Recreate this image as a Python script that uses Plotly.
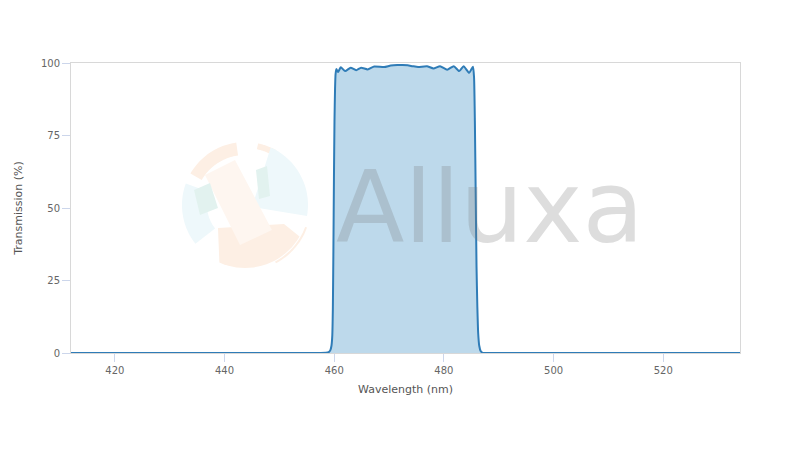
import plotly.graph_objects as go
import math

# ---- data ----
wavelength_nm = [412, 450, 458.5, 459.0, 459.3, 459.5, 459.65, 459.75, 459.85, 459.95,
                 460.05, 460.15, 460.25, 460.4, 460.7, 461.2, 462.0, 463.0, 464.0, 464.9,
                 466.1, 467.3, 469.1, 470.3, 471.5, 472.5, 473.4, 474.3, 475.3, 476.9,
                 478.1, 479.3, 480.6, 481.8, 482.8, 483.6, 484.6, 485.3, 485.5, 485.65,
                 485.8, 485.95, 486.1, 486.25, 486.45, 486.7, 487.0, 487.5, 489, 534]
transmission_pct = [0, 0, 0.05, 0.3, 1.0, 2.5, 6, 15, 35, 60,
                    80, 91, 96.2, 97.9, 96.9, 98.5, 97.2, 98.4, 97.5, 98.4,
                    97.8, 98.8, 98.6, 99.1, 99.3, 99.3, 99.2, 98.9, 98.6, 98.9,
                    98.1, 98.9, 97.7, 98.9, 97.2, 98.9, 96.6, 98.7, 95, 80,
                    55, 30, 16, 7, 2.5, 0.7, 0.15, 0, 0, 0]
x_ticks = [420, 440, 460, 480, 500, 520]
y_ticks = [0, 25, 50, 75, 100]

# ---- layout geometry (pixels; page body adds an 8px offset) ----
W, H = 800, 450
ML, MR, MT, MB = 63, 68, 55, 105
PL, PT = 71, 63                      # plot-area origin on screen
PW, PH = W - ML - MR, H - MT - MB


def px(x, y):
    return (x - PL) / PW, (PT + PH - y) / PH


def poly(points):
    s = ""
    for i, (x, y) in enumerate(points):
        u, v = px(x, y)
        s += ("M" if i == 0 else "L") + f"{u:.4f},{v:.4f} "
    return s + "Z"


def sector(cx, cy, r0, r1, a0, a1, n=30):
    pts = []
    for i in range(n + 1):
        a = math.radians(a0 + (a1 - a0) * i / n)
        pts.append((cx + r1 * math.cos(a), cy - r1 * math.sin(a)))
    for i in range(n + 1):
        a = math.radians(a1 + (a0 - a1) * i / n)
        pts.append((cx + r0 * math.cos(a), cy - r0 * math.sin(a)))
    return pts


fig = go.Figure()
fig.add_trace(go.Scatter(
    x=wavelength_nm, y=transmission_pct, mode="lines",
    line=dict(color="#2f7cb7", width=2, shape="spline", smoothing=0.5),
    fill="tozeroy", fillcolor="#bdd9eb", hoverinfo="skip", showlegend=False))

# watermark logo (decorative)
cx, cy, R = 245, 205, 63
orange, blue, teal = "#fdefe4", "#eef8fb", "#e2f2ef"
shapes = []


def add(pts, color, op=1.0):
    shapes.append(dict(type="path", xref="paper", yref="paper", path=poly(pts),
                       fillcolor=color, line=dict(width=0), layer="below", opacity=op))


add(sector(cx, cy, 50, 63, 98, 150), orange)
add(sector(cx, cy, 57, 63, 60, 78), orange)
add(sector(cx, cy, 38, 63, 160, 218), blue)
# right blue wedge
pts = [(252, 207)] + [(cx + R * math.cos(math.radians(a)), cy - R * math.sin(math.radians(a)))
                      for a in range(66, -14, -4)]
add(pts, blue)
# bottom orange
pts = [(218, 228), (284, 224)] + [(cx + R * math.cos(math.radians(a)), cy - R * math.sin(math.radians(a)))
                                  for a in range(-30, -116, -4)]
add(pts, orange)
add(sector(cx, cy, 64, 66, -20, -62), orange)
# centre tilted rectangle
add([(205, 175), (235, 160), (272, 230), (240, 245)], "#fef6f0")
add([(194, 190), (210, 183), (218, 208), (200, 215)], teal)
add([(256, 170), (267, 166), (270, 196), (259, 199)], teal)

fig.update_layout(
    width=W, height=H,
    margin=dict(l=ML, r=MR, t=MT, b=MB, autoexpand=False),
    paper_bgcolor="white", plot_bgcolor="white",
    font=dict(family="DejaVu Sans, sans-serif", size=10, color="#666666"),
    shapes=shapes,
    annotations=[dict(text="Alluxa", xref="paper", yref="paper", x=px(490, 207)[0], y=px(490, 207)[1],
                      xanchor="center", yanchor="middle", showarrow=False,
                      font=dict(family="DejaVu Sans, sans-serif", size=100,
                                color="rgba(120,120,120,0.25)"))],
    xaxis=dict(range=[412, 534], tickvals=x_ticks, ticks="outside", ticklen=8,
               tickcolor="#ccd6eb", showgrid=False, zeroline=False, automargin=False,
               showline=True, linecolor="#d8d8d8", linewidth=1, mirror=True,
               title=dict(text="Wavelength (nm)", font=dict(size=11, color="#555555"), standoff=10)),
    yaxis=dict(range=[0, 100], tickvals=y_ticks, ticks="outside", ticklen=8,
               tickcolor="#ccd6eb", showgrid=False, zeroline=False, automargin=False,
               showline=True, linecolor="#d8d8d8", linewidth=1, mirror=True,
               title=dict(text="Transmission (%)", font=dict(size=11, color="#555555"), standoff=16)),
)

fig.write_html("out.html")
